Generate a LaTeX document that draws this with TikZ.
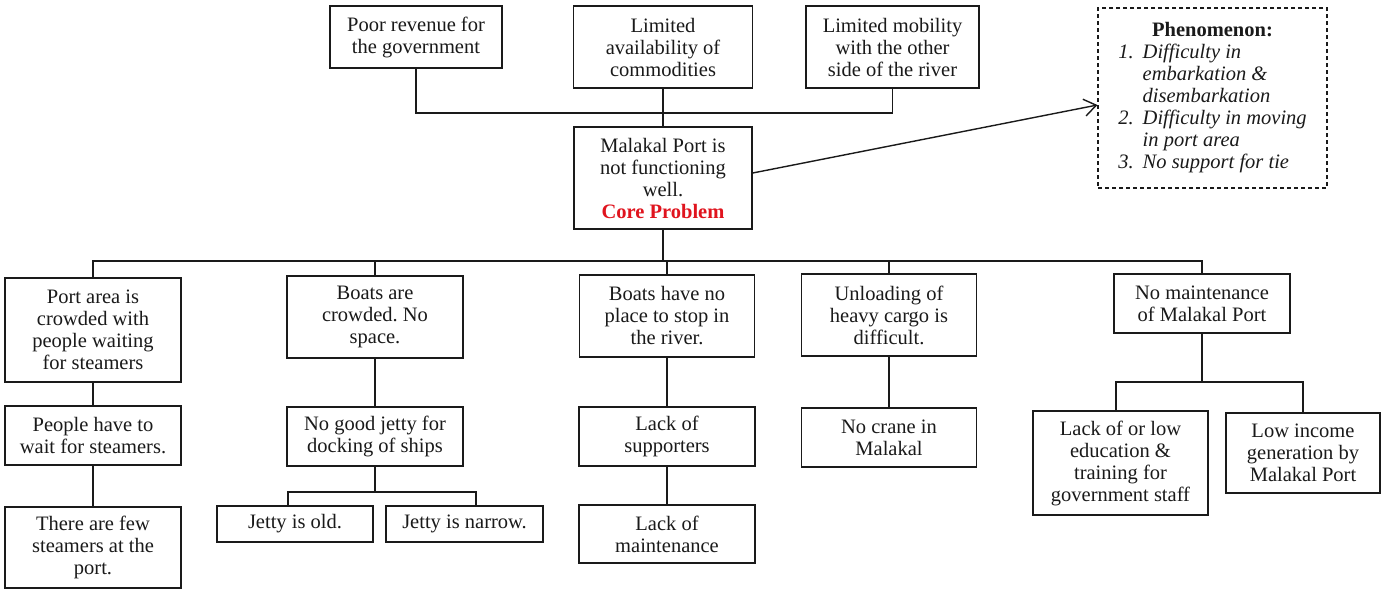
\documentclass[tikz,border=0pt]{standalone}
\usepackage{fontspec}
\setmainfont{Liberation Serif}
\usepackage{array}
\usetikzlibrary{arrows.meta}
\definecolor{ink}{HTML}{1A1A1A}
\definecolor{corered}{HTML}{E0141E}
\frenchspacing
\begin{document}
\begin{tikzpicture}[x=1pt,y=-1pt,
  box/.style={draw=ink, line width=1.4pt, align=center, inner sep=2pt, text=ink,
              font=\fontsize{20.5}{22}\selectfont},
  link/.style={draw=ink, line width=1.4pt},
  ]
\useasboundingbox (0,0) rectangle (1385,590);
\fill[white] (0,0) rectangle (1385,590);

% effects
\node[box, minimum width=172pt, minimum height=62pt] (rev) at (416,37)
  {Poor revenue for\\the government};
\node[box, minimum width=179pt, minimum height=82pt] (avail) at (663,47)
  {Limited\\availability of\\commodities};
\node[box, minimum width=173pt, minimum height=82pt] (mob) at (892.5,47)
  {Limited mobility\\with the other\\side of the river};

% core problem
\node[box, minimum width=178pt, minimum height=102pt] (core) at (663,178)
  {Malakal Port is\\not functioning\\well.\\{\color{corered}\bfseries Core Problem}};

% phenomenon
\node[box, dash pattern=on 4pt off 3pt, line width=1.1pt,
      minimum width=229pt, minimum height=180pt] (phen) at (1212.5,98)
  {\begin{tabular}{@{}>{\itshape}r@{\hspace{9pt}}>{\itshape}l@{}}
   \multicolumn{2}{c}{\bfseries Phenomenon:}\\
   1. & Difficulty in\\
      & embarkation \&\\
      & disembarkation\\
   2. & Difficulty in moving\\
      & in port area\\
   3. & No support for tie
   \end{tabular}};

% causes, first level
\node[box, minimum width=176pt, minimum height=104pt] (port) at (93,330)
  {Port area is\\crowded with\\people waiting\\for steamers};
\node[box, minimum width=176pt, minimum height=82pt] (boats) at (375,317)
  {Boats are\\crowded. No\\space.};
\node[box, minimum width=175pt, minimum height=82pt] (nplace) at (667,316)
  {Boats have no\\place to stop in\\the river.};
\node[box, minimum width=175pt, minimum height=82pt] (unload) at (889,315)
  {Unloading of\\heavy cargo is\\difficult.};
\node[box, minimum width=176pt, minimum height=59pt] (nomaint) at (1202,303.5)
  {No maintenance\\of Malakal Port};

% causes, deeper levels
\node[box, minimum width=176pt, minimum height=59pt] (wait) at (93,435.5)
  {People have to\\wait for steamers.};
\node[box, minimum width=176pt, minimum height=81pt] (few) at (93,547.5)
  {There are few\\steamers at the\\port.};
\node[box, minimum width=176pt, minimum height=59pt] (jetty) at (375,436.5)
  {No good jetty for\\docking of ships};
\node[box, minimum width=156pt, minimum height=36pt] (old) at (295,524)
  {Jetty is old.};
\node[box, minimum width=157pt, minimum height=36pt] (narrow) at (464.5,524)
  {Jetty is narrow.};
\node[box, minimum width=176pt, minimum height=59pt] (supp) at (667,436.5)
  {Lack of\\supporters};
\node[box, minimum width=176pt, minimum height=58pt] (maint) at (667,534)
  {Lack of\\maintenance};
\node[box, minimum width=175pt, minimum height=59pt] (crane) at (889,437.5)
  {No crane in\\Malakal};
\node[box, minimum width=175pt, minimum height=104pt] (edu) at (1120.5,463)
  {Lack of or low\\education \&\\training for\\government staff};
\node[box, minimum width=154pt, minimum height=80pt] (income) at (1303,453)
  {Low income\\generation by\\Malakal Port};

% connectors above the core problem
\coordinate (tbus) at (0,113);
\draw[link] (rev.south) |- (tbus -| mob.south) -- (mob.south);
\draw[link] (core.north |- avail.south) -- (core.north);
\draw[link, -{Straight Barb[length=12pt,width=17pt]}]
  ([yshift=5pt]core.east) -- ([yshift=-7pt]phen.west);

% main bus below the core problem
\coordinate (mbus) at (0,261);
\draw[link] (core.south) -- (core.south |- mbus);
\draw[link] (port.north) |- (mbus -| nomaint.north) -- (nomaint.north);
\draw[link] (boats.north) -- (boats.north |- mbus);
\draw[link] (nplace.north) -- (nplace.north |- mbus);
\draw[link] (unload.north) -- (unload.north |- mbus);

% branches
\draw[link] (port.south) -- (wait.north);
\draw[link] (wait.south) -- (few.north);
\draw[link] (boats.south) -- (jetty.north);
\coordinate (jbus) at (375,492);
\draw[link] (jetty.south) -- (jbus);
\draw[link] ([xshift=-7pt]old.north) |- (jbus) -| ([xshift=11.5pt]narrow.north);
\draw[link] (nplace.south) -- (supp.north);
\draw[link] (supp.south) -- (maint.north);
\draw[link] (unload.south) -- (crane.north);
\coordinate (ebus) at (1202,382);
\draw[link] (nomaint.south) -- (ebus);
\draw[link] ([xshift=-4.5pt]edu.north) |- (ebus) -| (income.north);
\end{tikzpicture}
\end{document}
